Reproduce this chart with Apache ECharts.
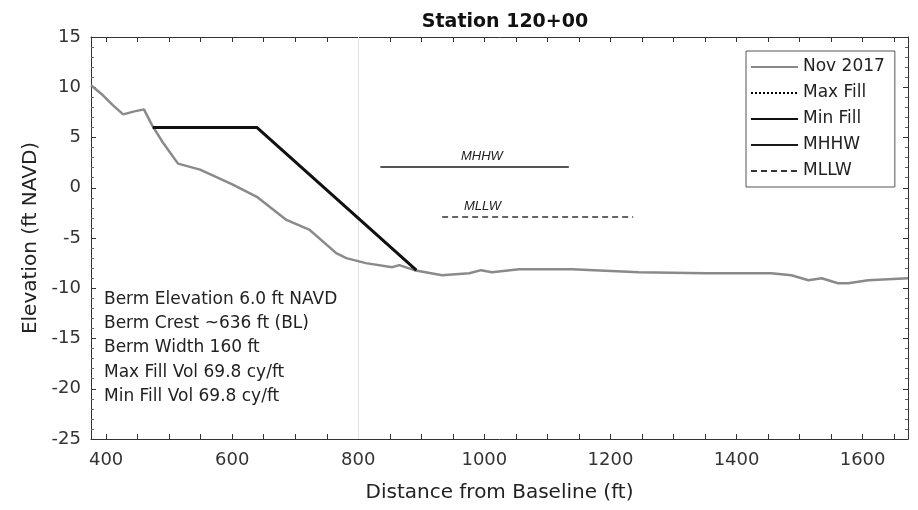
<!DOCTYPE html>
<html>
<head>
<meta charset="utf-8">
<script src="https://cdn.jsdelivr.net/npm/echarts@6/dist/echarts.min.js"></script>
<style>
  html, body { margin: 0; padding: 0; background: #fff; }
  #chart { width: 918px; height: 510px; }
</style>
</head>
<body>
<div id="chart"></div>
<script>
// Nov 2017 survey profile (distance ft, elevation ft NAVD)
const profileX = [376, 395, 411, 427, 445, 460, 473, 490, 514, 549, 601, 639, 686, 723, 765, 781, 812, 854, 865, 889, 933, 976, 995, 1012, 1055, 1139, 1245, 1351, 1455, 1487, 1514, 1535, 1561, 1577, 1609, 1672]
const profileY = [10.2, 9.2, 8.2, 7.3, 7.6, 7.8, 6.2, 4.5, 2.4, 1.8, 0.3, -0.9, -3.2, -4.2, -6.5, -7.0, -7.5, -7.9, -7.7, -8.2, -8.7, -8.5, -8.2, -8.4, -8.1, -8.1, -8.4, -8.5, -8.5, -8.7, -9.2, -9.0, -9.5, -9.5, -9.2, -9.0]

// berm template (max and min fill coincide)
const fillX = [474, 639, 892]
const fillY = [6.0, 6.0, -8.2]

const mhhwX = [835, 1134]
const mhhwY = 2.06
const mllwX = [933, 1236]
const mllwY = -2.9

const xLabels = [400, 600, 800, 1000, 1200, 1400, 1600]
const xTicks = [400, 450, 500, 550, 600, 650, 700, 750, 800, 850, 900, 950, 1000, 1050, 1100, 1150, 1200, 1250, 1300, 1350, 1400, 1450, 1500, 1550, 1600, 1650]

const notes = [
  'Berm Elevation 6.0 ft NAVD',
  'Berm Crest ~636 ft (BL)',
  'Berm Width 160 ft',
  'Max Fill Vol 69.8 cy/ft',
  'Min Fill Vol 69.8 cy/ft'
]

const zip = (xs, ys) => xs.map((x, i) => [x, Array.isArray(ys) ? ys[i] : ys])

const font = 'DejaVu Sans'
const axisColor = '#333'

const chart = echarts.init(document.getElementById('chart'), null, { renderer: 'canvas' })

const baseX = {
  type: 'value',
  min: 376,
  max: 1672,
  axisLine: { show: true, onZero: false, lineStyle: { color: axisColor, width: 1 } },
  axisTick: { inside: true, length: 5, customValues: xTicks, lineStyle: { color: axisColor } },
  splitLine: { show: false }
}
const baseY = {
  type: 'value',
  min: -25,
  max: 15,
  interval: 5,
  axisLine: { show: true, onZero: false, lineStyle: { color: axisColor, width: 1 } },
  axisTick: { inside: true, length: 5, lineStyle: { color: axisColor } },
  minorTick: { show: true, splitNumber: 5, length: 3, lineStyle: { color: '#666' } },
  splitLine: { show: false }
}

const option = {
  animation: false,
  backgroundColor: '#fff',
  title: {
    text: 'Station 120+00',
    left: 500,
    top: 8,
    textAlign: 'center',
    textStyle: { fontFamily: font, fontWeight: 'bold', fontSize: 19, color: '#111' }
  },
  grid: { left: 91, top: 37, right: 10, bottom: 71, containLabel: false },
  legend: {
    orient: 'vertical',
    left: 746,
    top: 51,
    padding: [6, 10, 6, 4],
    itemWidth: 47,
    itemHeight: 14,
    itemGap: 6,
    borderColor: '#555',
    borderWidth: 1,
    backgroundColor: '#fff',
    itemStyle: { opacity: 0 },
    textStyle: { fontFamily: font, fontSize: 17, color: '#222', lineHeight: 20 },
    data: ['Nov 2017', 'Max Fill', 'Min Fill', 'MHHW', 'MLLW']
  },
  xAxis: [
    Object.assign({}, baseX, {
      position: 'bottom',
      name: 'Distance from Baseline (ft)',
      nameLocation: 'middle',
      nameGap: 44,
      nameTextStyle: { fontFamily: font, fontSize: 20, color: '#222' },
      axisLabel: { customValues: xLabels, formatter: v => String(v), fontFamily: font, fontSize: 18, color: '#333', margin: 12 }
    }),
    Object.assign({}, baseX, { position: 'top', axisLabel: { show: false } })
  ],
  yAxis: [
    Object.assign({}, baseY, {
      position: 'left',
      name: 'Elevation (ft NAVD)',
      nameLocation: 'middle',
      nameGap: 46,
      nameTextStyle: { fontFamily: font, fontSize: 20, color: '#222' },
      axisLabel: { fontFamily: font, fontSize: 18, color: '#333', margin: 10 }
    }),
    Object.assign({}, baseY, { position: 'right', axisLabel: { show: false } })
  ],
  series: [
    {
      name: 'Nov 2017',
      type: 'line',
      data: zip(profileX, profileY),
      symbol: 'none',
      lineStyle: { color: '#8a8a8a', width: 2.5 },
      itemStyle: { color: '#8a8a8a' },
      z: 3,
      markLine: {
        silent: true,
        symbol: 'none',
        label: { show: false },
        lineStyle: { color: '#e2e2e2', width: 1, type: 'solid' },
        data: [{ xAxis: 800 }],
        z: 1
      }
    },
    {
      name: 'Max Fill',
      type: 'line',
      data: zip(fillX, fillY),
      symbol: 'none',
      lineStyle: { color: '#000', width: 2, type: 'dotted' },
      itemStyle: { color: '#000' },
      z: 4
    },
    {
      name: 'Min Fill',
      type: 'line',
      data: zip(fillX, fillY),
      symbol: 'none',
      lineStyle: { color: '#111', width: 3 },
      itemStyle: { color: '#111' },
      z: 5
    },
    {
      name: 'MHHW',
      type: 'line',
      data: zip(mhhwX, mhhwY),
      symbol: 'none',
      lineStyle: { color: '#1a1a1a', width: 1.5 },
      itemStyle: { color: '#1a1a1a' },
      markPoint: {
        symbol: 'circle',
        symbolSize: 0,
        label: { show: true, position: 'inside', formatter: 'MHHW', fontFamily: 'Liberation Sans', fontStyle: 'italic', fontSize: 13, color: '#222' },
        data: [{ coord: [996, 3.1] }]
      }
    },
    {
      name: 'MLLW',
      type: 'line',
      data: zip(mllwX, mllwY),
      symbol: 'none',
      lineStyle: { color: '#333', width: 1.5, type: [6, 4] },
      itemStyle: { color: '#333' },
      markPoint: {
        symbol: 'circle',
        symbolSize: 0,
        label: { show: true, position: 'inside', formatter: 'MLLW', fontFamily: 'Liberation Sans', fontStyle: 'italic', fontSize: 13, color: '#222' },
        data: [{ coord: [997, -1.9] }]
      }
    }
  ],
  graphic: notes.map((t, i) => ({
    type: 'text',
    left: 104,
    top: 291 + i * 24.2,
    style: { text: t, fontFamily: font, fontSize: 17, fill: '#222' },
    z: 10
  }))
}

chart.setOption(option)
</script>
</body>
</html>
